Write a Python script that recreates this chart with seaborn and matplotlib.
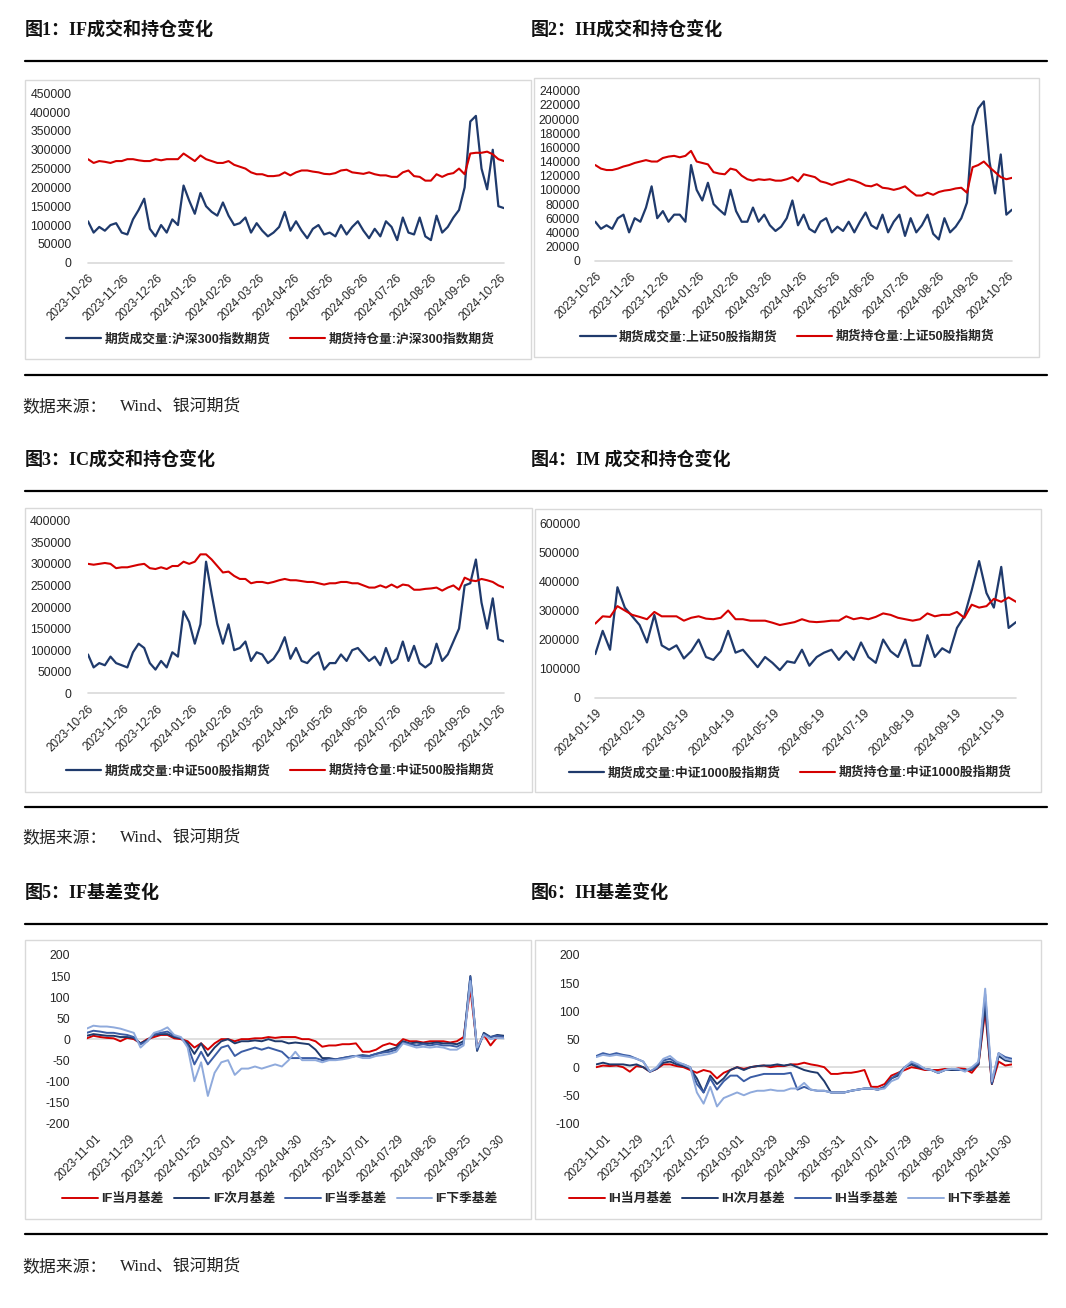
import numpy as np
import pandas as pd
import matplotlib
matplotlib.use('Agg')
import matplotlib.pyplot as plt
import seaborn as sns
from matplotlib.lines import Line2D
from matplotlib.patches import Rectangle

# ---- volume / open interest, thousands of contracts, one value every 5 calendar days ----
if_vol = [110, 80, 95, 85, 100, 105, 80, 75, 115, 140,
          170, 90, 70, 100, 80, 115, 100, 205, 165, 130,
          185, 150, 135, 125, 160, 125, 100, 105, 120, 80,
          105, 85, 70, 80, 95, 135, 85, 110, 85, 65,
          90, 100, 75, 80, 70, 100, 75, 95, 110, 85,
          65, 90, 70, 110, 95, 60, 120, 80, 75, 120,
          70, 60, 125, 80, 95, 120, 140, 200, 375, 390,
          250, 195, 300, 150, 145]
if_oi = [275, 265, 270, 268, 265, 270, 270, 275, 275, 272,
         270, 270, 275, 272, 275, 275, 275, 290, 280, 270,
         285, 275, 270, 265, 265, 270, 260, 255, 250, 240,
         235, 235, 230, 230, 232, 240, 232, 240, 245, 245,
         242, 240, 236, 235, 238, 245, 247, 240, 238, 236,
         240, 235, 232, 232, 228, 228, 240, 245, 230, 228,
         218, 218, 235, 228, 235, 238, 250, 235, 290, 292,
         292, 295, 288, 275, 270]

ih_vol = [55, 45, 50, 45, 60, 65, 40, 60, 55, 75,
          105, 60, 70, 55, 65, 65, 55, 135, 100, 85,
          110, 80, 72, 65, 100, 70, 55, 55, 75, 55,
          65, 50, 42, 48, 60, 85, 50, 65, 45, 40,
          55, 60, 40, 48, 42, 55, 40, 55, 68, 50,
          45, 65, 40, 55, 65, 35, 60, 40, 50, 65,
          38, 30, 60, 40, 48, 60, 82, 190, 215, 225,
          140, 95, 150, 65, 72]
ih_oi = [135, 130, 128, 128, 130, 133, 135, 138, 140, 142,
         140, 140, 145, 147, 148, 146, 148, 155, 140, 138,
         136, 125, 123, 122, 130, 128, 120, 115, 113, 115,
         114, 115, 113, 113, 115, 118, 112, 122, 120, 118,
         112, 110, 107, 110, 112, 115, 113, 110, 106, 105,
         108, 103, 102, 100, 102, 105, 98, 92, 92, 96,
         93, 97, 99, 100, 102, 103, 96, 132, 135, 140,
         132, 125, 118, 115, 117]

ic_vol = [90, 60, 70, 65, 85, 70, 65, 60, 95, 115,
          105, 70, 55, 75, 60, 95, 85, 190, 165, 115,
          160, 305, 230, 160, 115, 160, 100, 105, 120, 75,
          95, 90, 70, 80, 100, 130, 80, 105, 75, 70,
          85, 95, 55, 70, 70, 90, 75, 100, 105, 90,
          75, 85, 65, 105, 70, 80, 120, 75, 110, 70,
          60, 70, 115, 75, 90, 120, 150, 250, 255, 310,
          210, 150, 220, 125, 120]
ic_oi = [300, 298, 300, 302, 300, 290, 292, 292, 295, 298,
         300, 290, 288, 292, 288, 295, 295, 305, 300, 305,
         322, 322, 310, 295, 280, 282, 272, 265, 265, 255,
         258, 258, 255, 258, 262, 265, 262, 262, 260, 258,
         258, 255, 252, 255, 255, 258, 258, 255, 255, 250,
         245, 245, 250, 245, 252, 245, 252, 250, 240, 240,
         242, 243, 245, 238, 245, 250, 240, 268, 262, 260,
         265, 262, 258, 250, 245]

im_vol = [150, 230, 165, 380, 310, 280, 250, 190, 285, 180,
          165, 180, 135, 160, 200, 140, 130, 160, 230, 155,
          165, 135, 105, 140, 120, 95, 125, 120, 165, 110,
          140, 155, 165, 130, 160, 130, 190, 140, 120, 200,
          160, 140, 200, 110, 110, 215, 140, 170, 155, 240,
          280, 370, 470, 360, 310, 450, 240, 260]
im_oi = [255, 280, 278, 315, 300, 285, 278, 270, 295, 280,
         280, 280, 265, 275, 280, 272, 270, 275, 300, 270,
         270, 265, 265, 265, 258, 250, 255, 260, 270, 262,
         260, 262, 265, 265, 280, 270, 275, 270, 278, 290,
         285, 275, 270, 265, 270, 290, 280, 285, 285, 295,
         275, 320, 310, 315, 340, 330, 345, 330]

# ---- basis, index points, one value every 4 trading days ----
if_m1 = [2, 8, 5, 3, 2, -5, 3, 0, -10, 0,
         5, 10, 10, 2, 0, -5, -20, -10, -25, -10,
         0, 0, -5, 0, 0, 2, 2, 5, 3, 5,
         5, 5, 0, 0, -5, -18, -15, -15, -12, -12,
         -10, -30, -30, -25, -15, -10, -15, 0, -5, -5,
         -8, -5, -5, -5, -8, -5, 5, 120, -20, 10,
         -15, 5, 3]
if_m2 = [8, 12, 10, 8, 8, 5, 5, 3, -10, -2,
         10, 12, 12, 5, 2, -10, -35, -10, -40, -20,
         -5, 0, -10, -5, -5, -3, -5, 0, -5, -5,
         -10, -8, -10, -12, -25, -45, -45, -48, -45, -42,
         -40, -38, -40, -35, -30, -25, -20, -5, -10, -8,
         -10, -10, -8, -10, -10, -12, -5, 150, -28, 15,
         5, 10, 8]
if_q1 = [15, 20, 18, 15, 15, 12, 10, 5, -12, -5,
         12, 15, 18, 8, 3, -15, -60, -30, -60, -40,
         -20, -15, -40, -30, -25, -20, -25, -20, -25, -30,
         -45, -45, -45, -45, -45, -50, -48, -48, -45, -42,
         -40, -40, -40, -35, -32, -30, -25, -8, -12, -15,
         -12, -15, -12, -15, -15, -18, -10, 148, -25, 12,
         5, 8, 5]
if_q2 = [25, 32, 30, 30, 28, 25, 20, 15, -20, -5,
         15, 20, 28, 10, 5, -20, -100, -55, -135, -80,
         -55, -50, -85, -70, -70, -65, -70, -65, -60, -65,
         -50, -30, -50, -50, -50, -55, -50, -50, -48, -45,
         -40, -45, -45, -40, -38, -35, -30, -10, -15, -20,
         -18, -20, -18, -20, -25, -25, -15, 138, -20, 10,
         0, 3, 2]

ih_m1 = [0, 3, 2, 3, 0, -8, 2, 0, -8, -3,
         5, 5, 2, 0, -5, -10, -5, -8, -20, -10,
         -5, 0, -3, 0, 2, 3, 0, 2, 2, 5,
         5, 8, 5, 3, 0, -12, -12, -10, -10, -8,
         -5, -35, -35, -30, -15, -10, -5, 0, -2, -5,
         -5, -5, -3, -5, -2, -3, -10, 5, 100, -30,
         10, 3, 5]
ih_m2 = [5, 8, 5, 5, 5, 3, 5, 0, -8, -3,
         8, 10, 5, 2, -2, -20, -45, -15, -30, -20,
         -5, 0, -5, 0, 2, 3, 3, 5, 3, 5,
         0, -5, -8, -10, -25, -45, -45, -45, -42, -40,
         -38, -38, -40, -35, -20, -15, 0, 5, 0, -3,
         -5, -10, -5, -5, -5, -5, -5, 5, 110, -30,
         20, 12, 10]
ih_q1 = [20, 25, 22, 25, 22, 20, 15, 10, -8, -2,
         12, 15, 8, 5, 0, -30, -45, -20, -40, -25,
         -15, -15, -25, -18, -15, -12, -12, -12, -12, -10,
         -40, -35, -40, -42, -42, -45, -45, -45, -42, -40,
         -38, -38, -40, -35, -20, -12, 0, 8, 3, -3,
         -5, -10, -5, -3, -5, -5, -3, 8, 130, -28,
         25, 18, 15]
ih_q2 = [18, 22, 20, 22, 20, 18, 15, 10, -8, 0,
         15, 20, 10, 5, 0, -45, -65, -35, -70, -55,
         -50, -45, -50, -45, -42, -42, -40, -42, -42, -38,
         -38, -28, -40, -42, -42, -45, -45, -45, -42, -40,
         -38, -38, -40, -38, -25, -20, 0, 10, 5, -3,
         -5, -10, -5, -3, -3, -8, 0, 10, 140, -25,
         25, 15, 12]

ticks_year = ['2023-10-26', '2023-11-26', '2023-12-26', '2024-01-26', '2024-02-26',
              '2024-03-26', '2024-04-26', '2024-05-26', '2024-06-26', '2024-07-26',
              '2024-08-26', '2024-09-26', '2024-10-26']
ticks_im = ['2024-01-19', '2024-02-19', '2024-03-19', '2024-04-19', '2024-05-19',
            '2024-06-19', '2024-07-19', '2024-08-19', '2024-09-19', '2024-10-19']
ticks_basis = ['2023-11-01', '2023-11-29', '2023-12-27', '2024-01-25', '2024-03-01',
               '2024-03-29', '2024-04-30', '2024-05-31', '2024-07-01', '2024-07-29',
               '2024-08-26', '2024-09-25', '2024-10-30']

dates_year = pd.date_range('2023-10-26', periods=len(if_vol), freq='5D')
dates_im = pd.date_range('2024-01-19', periods=len(im_vol), freq='5D')
basis_idx = np.arange(0, 4 * len(if_m1), 4)          # trading-day index
basis_tick_idx = np.arange(5, 5 + 20 * len(ticks_basis), 20)

sns.set_style('white')
plt.rcParams['font.family'] = ['Liberation Sans', 'Noto Sans CJK SC']
plt.rcParams['axes.unicode_minus'] = False

W, H = 1066, 1308
fig = plt.figure(figsize=(W / 100, H / 100), dpi=100)

NAVY = '#1F3A6C'
RED = '#D40000'
MID = '#3B5DA5'
LIGHT = '#8FAADC'
GRID = '#D9D9D9'
TITLE_FONT = ['Liberation Serif', 'Noto Sans CJK SC']


def px_axes(x0, x1, ytop, ybot):
    return fig.add_axes([x0 / W, 1 - ybot / H, (x1 - x0) / W, (ybot - ytop) / H])


def frame(x0, x1, ytop, ybot):
    fig.add_artist(Rectangle((x0 / W, 1 - ybot / H), (x1 - x0) / W, (ybot - ytop) / H,
                             transform=fig.transFigure, fill=False, edgecolor=GRID, lw=1))


def style_axes(ax, yticks, ypad):
    for s in ax.spines.values():
        s.set_visible(False)
    ax.axhline(0, color=GRID, lw=1.2, zorder=0, clip_on=False)
    ax.set_yticks(yticks)
    ax.set_yticklabels([f'{int(v)}' for v in yticks], fontsize=8.8)
    ax.tick_params(axis='y', length=0, pad=ypad)
    ax.tick_params(axis='x', length=0, pad=7)
    ax.set_xlabel('')
    ax.set_ylabel('')


def legend(ax, cx, cy, ncol, spacing):
    ax.legend(loc='center', bbox_to_anchor=(cx / W, 1 - cy / H), bbox_transform=fig.transFigure,
              ncol=ncol, frameon=False, handlelength=2.8, handletextpad=0.25,
              columnspacing=spacing, prop={'weight': 'bold', 'size': 9.2})


def volume_panel(box, area, dates, vol, oi, names, ymax, ystep, ticks, ypad, leg):
    frame(*box)
    ax = px_axes(*area)
    df = pd.DataFrame({'date': dates, 'vol': np.array(vol) * 1000, 'oi': np.array(oi) * 1000})
    sns.lineplot(data=df, x='date', y='vol', ax=ax, color=NAVY, lw=1.6, label=names[0])
    sns.lineplot(data=df, x='date', y='oi', ax=ax, color=RED, lw=1.5, label=names[1])
    ax.set_xlim(dates[0], dates[-1])
    ax.set_ylim(0, ymax)
    style_axes(ax, np.arange(0, ymax + 1, ystep), ypad)
    ax.set_xticks(pd.to_datetime(ticks))
    ax.set_xticklabels(ticks, rotation=45, ha='right', va='top', rotation_mode='anchor', fontsize=8.5)
    legend(ax, leg[0], leg[1], 2, 1.5)


def basis_panel(box, area, series, names, ylo, ypad, leg):
    frame(*box)
    ax = px_axes(*area)
    for vals, name, col in zip(series, names, [RED, NAVY, MID, LIGHT]):
        sns.lineplot(x=basis_idx, y=vals, ax=ax, color=col, lw=1.4, label=name)
    ax.set_xlim(basis_idx[0], basis_idx[-1])
    ax.set_ylim(ylo, 200)
    style_axes(ax, np.arange(ylo, 201, 50), ypad)
    ax.set_xticks(basis_tick_idx)
    ax.set_xticklabels(ticks_basis, rotation=45, ha='right', va='top', rotation_mode='anchor', fontsize=8.5)
    legend(ax, leg[0], leg[1], 4, 0.8)


volume_panel((25, 531, 80, 359), (88, 504, 93.3, 262.7), dates_year, if_vol, if_oi,
             ['期货成交量:沪深300指数期货', '期货持仓量:沪深300指数期货'],
             450000, 50000, ticks_year, 12, (280, 339))
volume_panel((534, 1039, 77.7, 356.7), (595.3, 1012, 90.7, 260.7), dates_year, ih_vol, ih_oi,
             ['期货成交量:上证50股指期货', '期货持仓量:上证50股指期货'],
             240000, 20000, ticks_year, 11, (787, 337))
volume_panel((25, 531.7, 507.7, 791.7), (88, 504, 520.7, 693.3), dates_year, ic_vol, ic_oi,
             ['期货成交量:中证500股指期货', '期货持仓量:中证500股指期货'],
             400000, 50000, ticks_year, 12, (280, 771))
volume_panel((535.3, 1041, 509, 792.3), (595.3, 1016, 523.3, 697.7), dates_im, im_vol, im_oi,
             ['期货成交量:中证1000股指期货', '期货持仓量:中证1000股指期货'],
             600000, 100000, ticks_im, 11, (790, 773))
basis_panel((25, 531, 940, 1219), (86.7, 504, 955, 1123.3), [if_m1, if_m2, if_q1, if_q2],
            ['IF当月基差', 'IF次月基差', 'IF当季基差', 'IF下季基差'], -200, 12, (280, 1199))
basis_panel((534.7, 1041, 940, 1219), (596.3, 1012, 955, 1123.3), [ih_m1, ih_m2, ih_q1, ih_q2],
            ['IH当月基差', 'IH次月基差', 'IH当季基差', 'IH下季基差'], -100, 12, (790, 1199))

# titles, rules and source notes
titles = [(25, 31, '图1：IF成交和持仓变化'), (531, 31, '图2：IH成交和持仓变化'),
          (25, 461, '图3：IC成交和持仓变化'), (531, 461, '图4：IM 成交和持仓变化'),
          (25, 893, '图5：IF基差变化'), (531, 893, '图6：IH基差变化')]
for x, y, t in titles:
    fig.text(x / W, 1 - y / H, t, fontsize=13, weight='bold', va='center', ha='left',
             family=TITLE_FONT, color='#111111')

for y in [61, 375, 491, 807, 924, 1234]:
    fig.add_artist(Line2D([25 / W, 1047 / W], [1 - y / H, 1 - y / H], transform=fig.transFigure,
                          color='black', lw=1.6))

for y in [407, 838, 1267]:
    fig.text(22 / W, 1 - y / H, '数据来源：', fontsize=12.2, va='center', ha='left',
             family=TITLE_FONT, color='#222222')
    fig.text(120 / W, 1 - y / H, 'Wind、银河期货', fontsize=12.2, va='center', ha='left',
             family=TITLE_FONT, color='#222222')

fig.savefig('out.png', dpi=100)
